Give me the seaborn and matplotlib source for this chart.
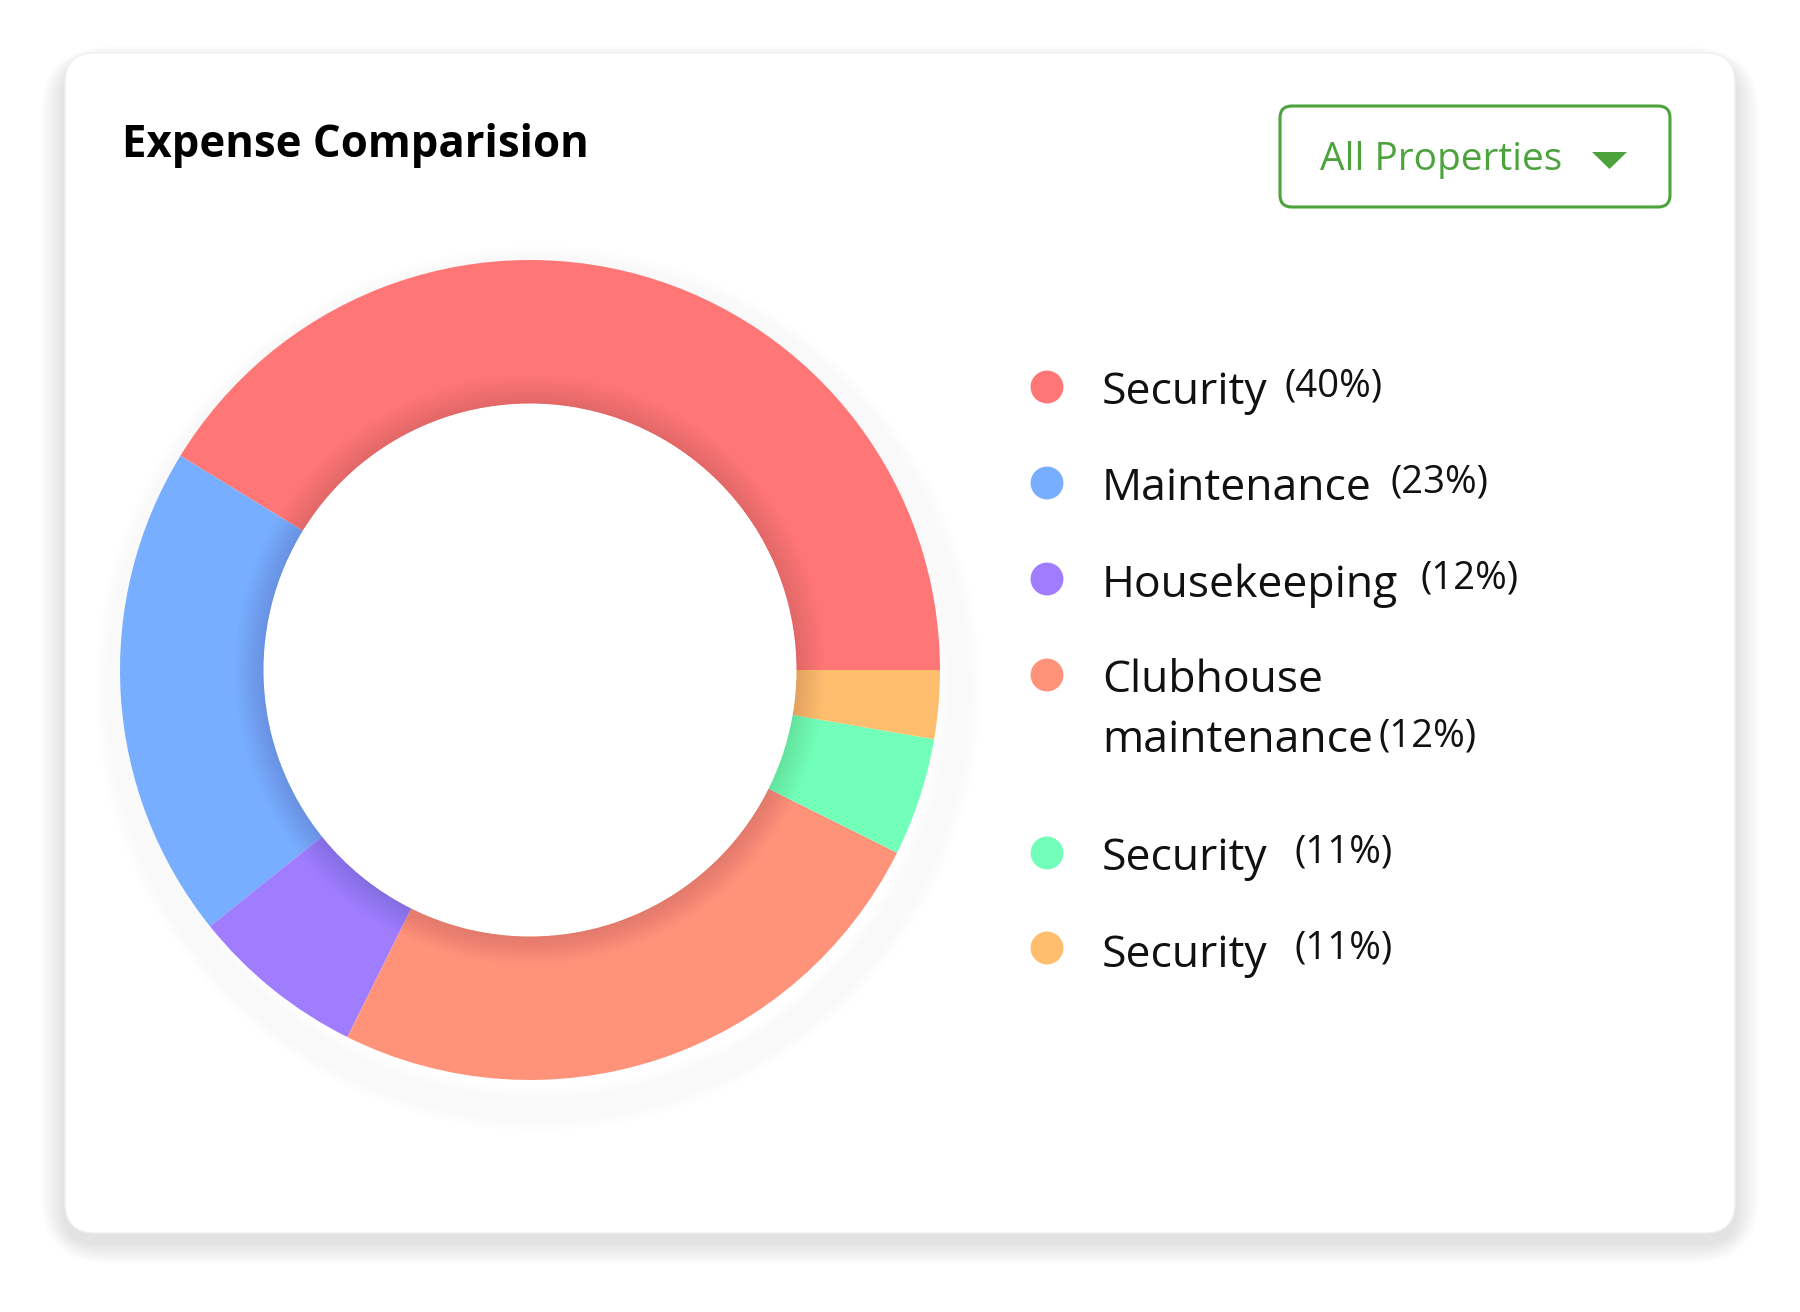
import matplotlib
matplotlib.use("Agg")
import matplotlib.pyplot as plt
from matplotlib.patches import FancyBboxPatch, Polygon, Wedge
import numpy as np
import seaborn as sns

# data (slice sizes) and the legend texts
labels = ["Security", "Maintenance", "Housekeeping", "Clubhouse\nmaintenance", "Security", "Security"]
shares = [41.25, 19.5, 6.9, 25.0, 4.65, 2.7]
legend_pct = ["(40%)", "(23%)", "(12%)", "(12%)", "(11%)", "(11%)"]
colors = ["#FF7676", "#78AEFF", "#A07CFF", "#FF937A", "#72FFBA", "#FFBE6E"]

sns.set_theme(style="white")
plt.rcParams["font.family"] = ["Open Sans", "DejaVu Sans"]

W, H = 1800, 1312
fig = plt.figure(figsize=(W / 100, H / 100), dpi=100)
fig.patch.set_facecolor("white")

# background axes in pixel coordinates
bg = fig.add_axes([0, 0, 1, 1])
bg.set_xlim(0, W)
bg.set_ylim(H, 0)
bg.axis("off")

# card shadow
for i in range(14):
    pad = 3 + i * 3
    bg.add_patch(FancyBboxPatch((65 - pad * 0.6, 53 - pad * 0.4 + 10), 1670 + pad * 1.2, 1180 + pad * 0.9,
                                boxstyle="round,pad=0,rounding_size=%d" % (30 + pad),
                                fc="#000000", ec="none", alpha=0.007, zorder=0))
bg.add_patch(FancyBboxPatch((65, 53), 1670, 1180, boxstyle="round,pad=0,rounding_size=30",
                            fc="white", ec="#f0f0f0", lw=1, zorder=1))

# title
bg.text(122, 157, "Expense Comparision", fontsize=31.5, fontweight="bold", color="#000000",
        va="baseline", ha="left", zorder=3)

# dropdown button
green = "#4CA33C"
bg.add_patch(FancyBboxPatch((1280, 106), 390, 101, boxstyle="round,pad=0,rounding_size=12",
                            fc="white", ec=green, lw=2.2, zorder=3))
bg.text(1320, 170, "All Properties", fontsize=28, color=green, va="baseline", ha="left", zorder=4)
bg.add_patch(Polygon([[1592, 152], [1627, 152], [1609.5, 169]], closed=True, fc=green, ec="none", zorder=4))

# legend
dot_y = [387, 483, 579, 675, 853, 948]
text_base = [404, 500, 597, 692, 870, 967]
pct_x = [1284, 1391, 1421, 1378, 1295, 1295]
pct_base = [397, 493, 588, 746, 863, 959]
bg.scatter([1047] * len(dot_y), dot_y, s=560, c=colors, edgecolors="none", zorder=4)
for lab, tb, px, pb, pct in zip(labels, text_base, pct_x, pct_base, legend_pct):
    for k, line in enumerate(lab.split("\n")):
        bg.text(1102, tb + 60 * k, line, fontsize=32, color="#111111", va="baseline", ha="left", zorder=4)
    bg.text(px, pb, pct, fontsize=27.5, color="#111111", va="baseline", ha="left", zorder=4)

# donut
cx, cy, R = 530, 670, 410
half = 1.25
ax = fig.add_axes([(cx - R * half) / W, (H - cy - R * half) / H, 2 * R * half / W, 2 * R * half / H])
ax.axis("off")
ax.set_zorder(2)
ax.patch.set_alpha(0)

# soft outer shadow, a bit towards the bottom right
for i in range(16):
    r = 1.0 + 0.005 * (i + 1)
    ax.add_patch(Wedge((0.02, -0.045), r, 0, 360, width=0.03, fc="#000000", ec="none",
                       alpha=0.005, zorder=0))

ax.pie(shares, colors=colors, startangle=0, counterclock=True, radius=1,
       wedgeprops=dict(width=0.35, edgecolor="none", linewidth=0))

# inner shadow along the hole's rim
for i in range(14):
    ax.add_patch(Wedge((0, 0), 0.65 + 0.005 * (i + 1), 0, 360, width=0.005 * (i + 1),
                       fc="#000000", ec="none", alpha=0.009, zorder=5))

ax.set_xlim(-half, half)
ax.set_ylim(-half, half)
ax.set_aspect("equal")

fig.savefig("out.png", dpi=100, facecolor="white")
